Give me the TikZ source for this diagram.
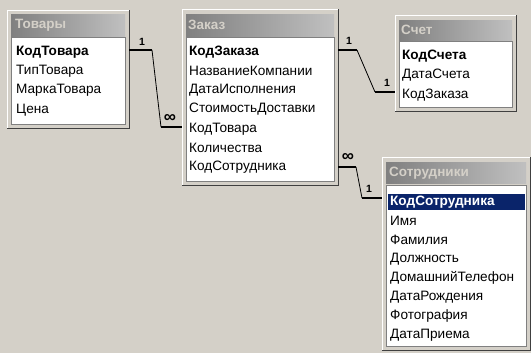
\documentclass[tikz,border=0pt]{standalone}
\usepackage{fontspec}
\setmainfont{Liberation Sans}
\usetikzlibrary{positioning}

\definecolor{winbg}{HTML}{D4D0C8}
\definecolor{capdark}{HTML}{808080}
\definecolor{caplight}{HTML}{C0C0C0}
\definecolor{captext}{HTML}{D4D0C8}
\definecolor{shadow}{HTML}{404040}
\definecolor{selblue}{HTML}{0A246A}

\tikzset{
  frame/.style={draw=white, fill=winbg, anchor=north west, inner sep=0pt},
  caption/.style={anchor=north west, inner sep=0pt, left color=capdark, right color=caplight},
  captxt/.style={anchor=west, inner sep=0pt, text=captext, font=\fontsize{13.5}{15}\selectfont\bfseries},
  list/.style={draw=capdark, fill=white, anchor=north west, inner sep=0pt},
  row/.style={anchor=west, inner sep=0pt, font=\fontsize{13.6}{15}\selectfont},
  key/.style={anchor=west, inner sep=0pt, font=\fontsize{13.6}{15}\selectfont\bfseries},
  card/.style={inner sep=0pt, font=\fontsize{10.5}{11}\selectfont\bfseries},
  many/.style={inner sep=0pt, font=\fontsize{17}{17}\selectfont\bfseries},
  one/.style={line width=2.5pt},
  link/.style={line width=0.8pt},
}

\begin{document}
\begin{tikzpicture}[x=1pt,y=-1pt]
	\useasboundingbox (0,0) rectangle (531,353);
	\fill[winbg] (0,0) rectangle (531,353);

	% Товары
	\node[frame, minimum width=122, minimum height=118] (tovF) at (7,10) {};
	\node[caption, minimum width=114, minimum height=22] (tovC) at (11,14) {};
	\node[captxt] (tovT) at (15,25) {Товары};
	\node[list, minimum width=114, minimum height=87] (tovL) at (11,37) {};
	\node[key] (tov1) at (16,52) {КодТовара};
	\foreach \t [count=\i from 2] in {ТипТовара,МаркаТовара,Цена}
		\node[row] (tov\i) at (16,{52+19.3*(\i-1)}) {\t};

	% Заказ
	\node[frame, minimum width=156, minimum height=176] (zakF) at (182,9) {};
	\node[caption, minimum width=148, minimum height=22] (zakC) at (186,14) {};
	\node[captxt] (zakT) at (188,25) {Заказ};
	\node[list, minimum width=148, minimum height=144] (zakL) at (186,37) {};
	\node[key] (zak1) at (189,52) {КодЗаказа};
	\foreach \t [count=\i from 2] in {НазваниеКомпании,ДатаИсполнения,СтоимостьДоставки,КодТовара,Количества,КодСотрудника}
		\node[row] (zak\i) at (189,{52+19.2*(\i-1)}) {\t};

	% Счет
	\node[frame, minimum width=121, minimum height=96] (schF) at (395,15) {};
	\node[caption, minimum width=113, minimum height=20] (schC) at (399,20) {};
	\node[captxt] (schT) at (401,30) {Счет};
	\node[list, minimum width=113, minimum height=66] (schL) at (399,41) {};
	\node[key] (sch1) at (402,56) {КодСчета};
	\foreach \t [count=\i from 2] in {ДатаСчета,КодЗаказа}
		\node[row] (sch\i) at (402,{56+19.5*(\i-1)}) {\t};

	% Сотрудники
	\node[frame, minimum width=148, minimum height=193] (sotF) at (382,157) {};
	\node[caption, minimum width=140, minimum height=21] (sotC) at (386,162) {};
	\node[captxt] (sotT) at (389,173) {Сотрудники};
	\node[list, minimum width=140, minimum height=161] (sotL) at (386,185) {};
	\node[fill=selblue, anchor=north west, inner sep=0pt, minimum width=137, minimum height=16] (sel) at (388,194) {};
	\node[key, text=white] (sot1) at (390,202) {КодСотрудника};
	\foreach \t [count=\i from 2] in {Имя,Фамилия,Должность,ДомашнийТелефон,ДатаРождения,Фотография,ДатаПриема}
		\node[row] (sot\i) at (390,{202+19*(\i-1)}) {\t};

	\foreach \f in {tovF,zakF,schF,sotF}
		\draw[shadow, line width=1.5pt] (\f.south west) -- (\f.south east) -- (\f.north east);

	% связи
	\coordinate (a1) at (152,50);
	\coordinate (a2) at (161,127);
	\draw[one] (tovF.east |- a1) -- (a1);
	\draw[link] (a1) -- (a2);
	\draw[one] (a2) -- (zakF.west |- a2);
	\node[card] (a1m) at (142,42) {1};
	\node[many] (a2m) at (170,118) {∞};

	\coordinate (b1) at (357,50);
	\coordinate (b2) at (375,92);
	\draw[one] (zakF.east |- b1) -- (b1);
	\draw[link] (b1) -- (b2);
	\draw[one] (b2) -- (schF.west |- b2);
	\node[card] (b1m) at (349,41) {1};
	\node[card] (b2m) at (387,83) {1};

	\coordinate (c1) at (356,167);
	\coordinate (c2) at (362,198);
	\draw[one] (zakF.east |- c1) -- (c1);
	\draw[link] (c1) -- (c2);
	\draw[one] (c2) -- (sotF.west |- c2);
	\node[many] (c1m) at (348,157) {∞};
	\node[card] (c2m) at (369,189) {1};
\end{tikzpicture}
\end{document}
